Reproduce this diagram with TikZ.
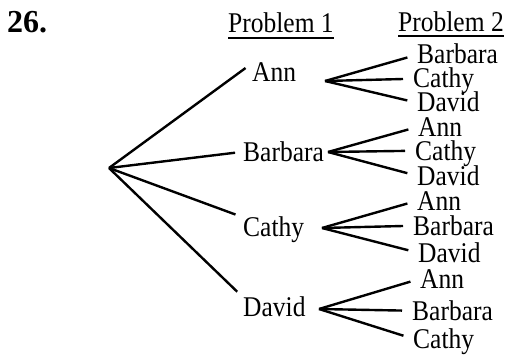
\documentclass[tikz,border=0pt]{standalone}
\usepackage{fontspec}
\setmainfont{Liberation Serif}
\usepackage{graphicx}
\newcommand{\tall}[1]{\scalebox{1}[1.12]{#1}}
\tikzset{
	branch/.style={line width=2.4pt},
	leg/.style={branch, shorten >=8pt},
	twig/.style={branch, shorten >=10pt},
	kid/.style={font=\fontsize{25.5}{30}\selectfont, inner sep=0pt, anchor=base west, text height=18.5pt, text depth=0pt},
	uline/.style={line width=2.6pt}
}

\begin{document}
\begin{tikzpicture}[x=1pt, y=-1pt]
			%%%%% START %%%%%
			\useasboundingbox (0,0) rectangle (510,358);
			
			\node[font=\fontsize{32}{36}\selectfont\bfseries, inner sep=0pt, anchor=base west] (num) at (7,33) {26.};
			
			\node[kid] (p1) at (228,33) {\tall{Problem 1}};
			\node[kid] (p2) at (398,32) {\tall{Problem 2}};
			\draw[uline] ([yshift=-5pt]p1.base west) -- ([yshift=-5pt]p1.base east);
			\draw[uline] ([yshift=-4pt]p2.base west) -- ([yshift=-4pt]p2.base east);
			
			% first choice
			\coordinate (root) at (109,168);
			\node[kid] (ann) at (252,82) {\tall{Ann}};
			\node[kid] (barb) at (243,161) {\tall{Barbara}};
			\node[kid] (cath) at (243,236) {\tall{Cathy}};
			\node[kid] (dav) at (243,316) {\tall{David}};
			
			\draw[leg] (root) -- (ann.north west);
			\draw[leg] (root) -- (barb.west);
			\draw[leg] (root) -- (cath.north west);
			\draw[leg] (root) -- (dav.north west);
			
			% second choice
			\coordinate (fa) at (325,81);
			\coordinate (fb) at (328,152);
			\coordinate (fc) at (322,228);
			\coordinate (fd) at (319,309);
			
			\node[kid] (ann-b) at (417,64) {\tall{Barbara}};
			\node[kid] (ann-c) at (413,88) {\tall{Cathy}};
			\node[kid] (ann-d) at (417,112) {\tall{David}};
			
			\node[kid] (barb-a) at (418,136) {\tall{Ann}};
			\node[kid] (barb-c) at (415,160) {\tall{Cathy}};
			\node[kid] (barb-d) at (417,185) {\tall{David}};
			
			\node[kid] (cath-a) at (417,210) {\tall{Ann}};
			\node[kid] (cath-b) at (413,235) {\tall{Barbara}};
			\node[kid] (cath-d) at (418,262) {\tall{David}};
			
			\node[kid] (dav-a) at (420,288) {\tall{Ann}};
			\node[kid] (dav-b) at (412,320) {\tall{Barbara}};
			\node[kid] (dav-c) at (413,348) {\tall{Cathy}};
			
			\foreach \k in {ann-b,ann-c,ann-d} \draw[twig] (fa) -- (\k.west);
			\foreach \k in {barb-a,barb-c,barb-d} \draw[twig] (fb) -- (\k.west);
			\foreach \k in {cath-a,cath-b,cath-d} \draw[twig] (fc) -- (\k.west);
			\foreach \k in {dav-a,dav-b,dav-c} \draw[twig] (fd) -- (\k.west);
			
			%%%%% END %%%%%
\end{tikzpicture}
\end{document}
